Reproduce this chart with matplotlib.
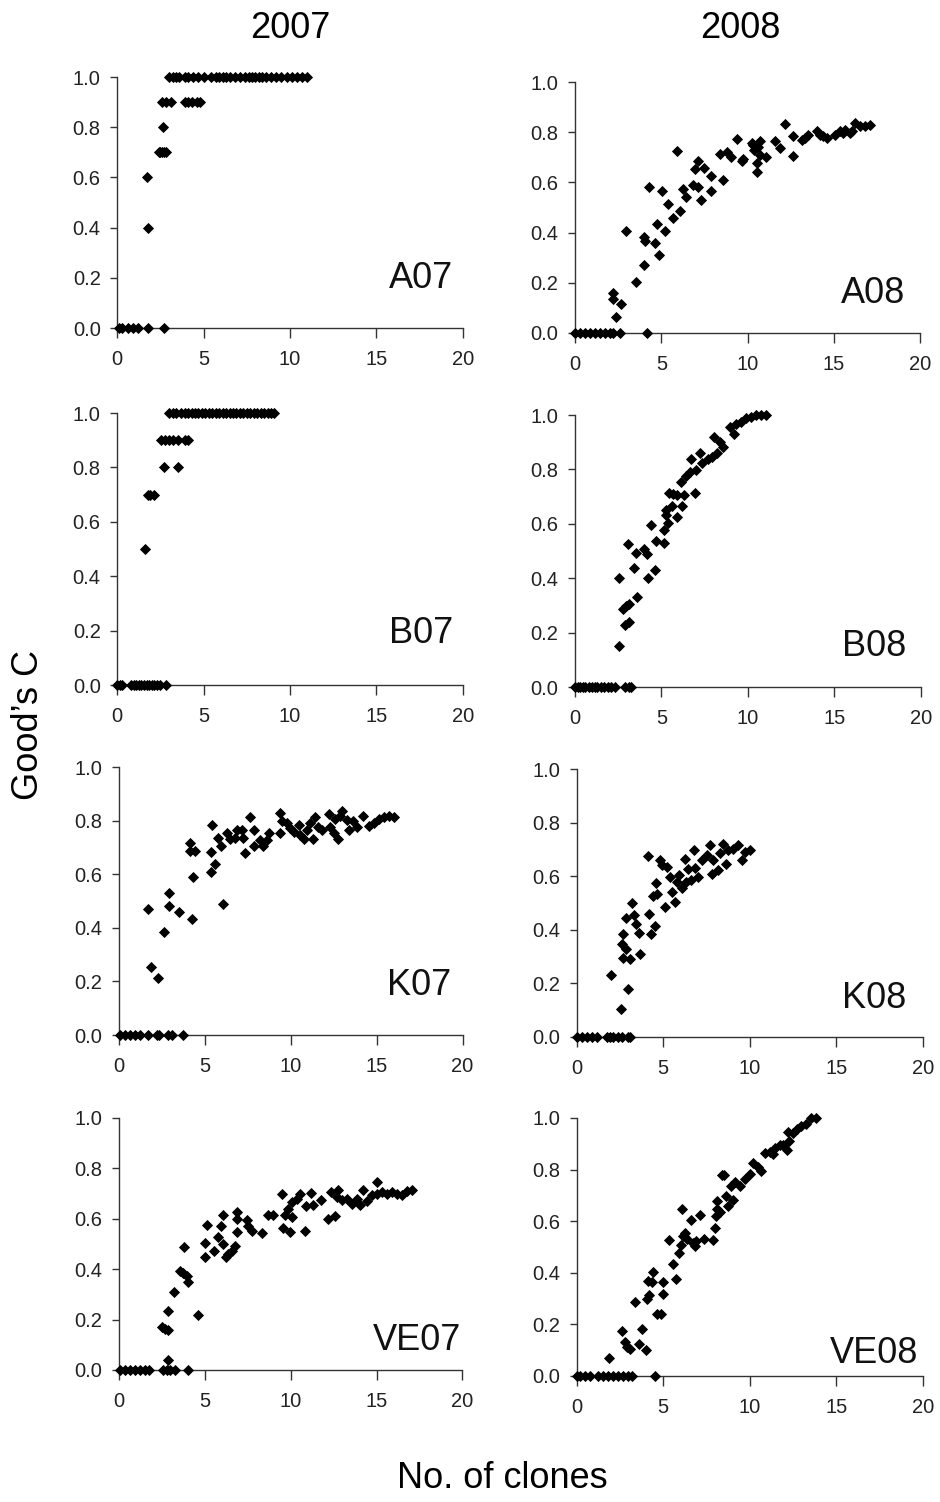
import matplotlib
matplotlib.use('Agg')
import matplotlib.pyplot as plt

plt.rcParams['font.family'] = ['Liberation Sans', 'DejaVu Sans']

# ── Data (x = no. of clones, y = Good's C) ────────────────────────────────────
a07_x = [0.1, 0.3, 0.6, 0.9, 1.2, 1.8, 2.7,
         1.75, 1.7,
         2.4, 2.5, 2.6, 2.7, 2.8,
         2.63,
         2.6, 2.8, 3.1, 3.9, 4.1, 4.3, 4.6, 4.8,
         3.0, 3.2, 3.4, 3.6, 3.9, 4.1, 4.4, 4.7, 5.0, 5.4, 5.7, 5.9, 6.1, 6.3,
         6.5, 6.8, 7.1, 7.4, 7.6, 7.8, 8.0, 8.2, 8.4, 8.6, 8.9, 9.2, 9.5, 9.8,
         10.1, 10.4, 10.7, 11.0]
a07_y = [0.0, 0.0, 0.0, 0.0, 0.0, 0.0, 0.0,
         0.4, 0.6,
         0.7, 0.7, 0.7, 0.7, 0.7,
         0.8,
         0.9, 0.9, 0.9, 0.9, 0.9, 0.9, 0.9, 0.9,
         1.0, 1.0, 1.0, 1.0, 1.0, 1.0, 1.0, 1.0, 1.0, 1.0, 1.0, 1.0, 1.0, 1.0,
         1.0, 1.0, 1.0, 1.0, 1.0, 1.0, 1.0, 1.0, 1.0, 1.0, 1.0, 1.0, 1.0, 1.0,
         1.0, 1.0, 1.0, 1.0]

a08_x = [0.0, 0.3, 0.58, 0.87, 1.16, 1.45, 1.74, 2.03, 2.22, 2.6, 4.19,
         2.22, 2.22, 2.64, 2.36, 2.93, 3.51, 4.02, 4.0, 4.03, 4.27, 4.63, 4.73,
         4.86, 5.02, 5.19, 5.37, 5.69, 5.89, 6.08, 6.24, 6.41, 6.85, 6.95, 7.1,
         7.14, 7.3, 7.49, 7.86, 7.86, 8.4, 8.59, 8.78, 9.03, 9.36, 9.65, 9.75,
         10.23, 10.39, 10.52, 10.52, 10.71, 10.71, 11.06, 11.58, 11.87, 12.16,
         12.64, 12.64, 13.13, 13.51, 14.0, 14.19, 14.58, 15.06, 15.35, 15.64,
         15.93, 16.22, 16.51, 16.8, 17.08, 10.33, 10.62, 13.32, 14.38, 15.54,
         16.02]
a08_y = [0.0, 0.0, 0.0, 0.0, 0.0, 0.0, 0.0, 0.0, 0.0, 0.0, 0.0,
         0.159, 0.136, 0.116, 0.065, 0.407, 0.203, 0.269, 0.383, 0.367, 0.583,
         0.359, 0.436, 0.312, 0.567, 0.407, 0.512, 0.46, 0.727, 0.485, 0.572,
         0.54, 0.589, 0.652, 0.685, 0.58, 0.529, 0.656, 0.625, 0.567, 0.712,
         0.609, 0.72, 0.7, 0.772, 0.687, 0.693, 0.756, 0.729, 0.676, 0.643,
         0.765, 0.709, 0.703, 0.765, 0.739, 0.832, 0.783, 0.705, 0.767, 0.789,
         0.803, 0.789, 0.776, 0.789, 0.803, 0.809, 0.796, 0.836, 0.823, 0.825,
         0.827, 0.749, 0.743, 0.776, 0.783, 0.796, 0.803]

b07_x = [0.0, 0.15, 0.3, 0.8, 0.95, 1.1, 1.25, 1.4, 1.55, 1.7, 1.85, 2.0,
         2.15, 2.3, 2.45, 2.8,
         1.6,
         1.8, 1.9, 2.15,
         2.72, 3.53,
         2.53, 2.75, 3.0, 3.25, 3.5, 3.9, 4.1,
         3.0, 3.2, 3.4, 3.7, 3.9, 4.1, 4.3, 4.5, 4.7, 4.9, 5.1, 5.3, 5.5, 5.7,
         5.9, 6.1, 6.3, 6.5, 6.7, 6.9, 7.1, 7.3, 7.5, 7.7, 7.9, 8.1, 8.3, 8.5,
         8.7, 8.9, 9.1]
b07_y = [0.0, 0.0, 0.0, 0.0, 0.0, 0.0, 0.0, 0.0, 0.0, 0.0, 0.0, 0.0,
         0.0, 0.0, 0.0, 0.0,
         0.5,
         0.7, 0.7, 0.7,
         0.8, 0.8,
         0.9, 0.9, 0.9, 0.9, 0.9, 0.9, 0.9,
         1.0, 1.0, 1.0, 1.0, 1.0, 1.0, 1.0, 1.0, 1.0, 1.0, 1.0, 1.0, 1.0, 1.0,
         1.0, 1.0, 1.0, 1.0, 1.0, 1.0, 1.0, 1.0, 1.0, 1.0, 1.0, 1.0, 1.0, 1.0,
         1.0, 1.0, 1.0]

b08_x = [0.0, 0.15, 0.3, 0.45, 0.6, 0.8, 1.0, 1.15, 1.3, 1.5, 1.7, 1.9,
         2.1, 2.3, 2.9, 3.1, 3.25,
         2.56, 2.56, 2.79, 2.94, 3.12, 2.88, 3.13, 3.08, 3.4, 3.52, 3.6, 3.98,
         4.17, 4.21, 4.62, 4.42, 4.71, 5.15, 5.15, 5.25, 5.29, 5.38, 5.44,
         5.58, 5.67, 5.92, 5.87, 6.19, 6.1, 6.29, 6.44, 6.63, 6.92, 6.73, 7.02,
         7.21, 7.37, 7.69, 8.02, 7.94, 8.21, 8.4, 8.56, 8.98, 9.17, 9.33, 9.62,
         9.9, 10.19, 10.48, 10.77, 11.02]
b08_y = [0.0, 0.0, 0.0, 0.0, 0.0, 0.0, 0.0, 0.0, 0.0, 0.0, 0.0, 0.0,
         0.0, 0.0, 0.0, 0.0, 0.0,
         0.15, 0.399, 0.285, 0.297, 0.304, 0.227, 0.239, 0.525, 0.438, 0.493,
         0.331, 0.509, 0.488, 0.402, 0.432, 0.595, 0.536, 0.528, 0.577, 0.65,
         0.632, 0.604, 0.712, 0.665, 0.708, 0.626, 0.706, 0.665, 0.755, 0.706,
         0.775, 0.791, 0.712, 0.837, 0.798, 0.861, 0.825, 0.84, 0.918, 0.847,
         0.861, 0.902, 0.883, 0.957, 0.929, 0.966, 0.975, 0.988, 0.994, 1.0,
         1.0, 1.0]

k07_x = [0.06, 0.35, 0.64, 0.93, 1.22, 1.71, 2.19, 2.35, 2.87, 3.07, 3.75,
         1.71, 1.86, 2.29, 2.64, 2.91, 2.91, 3.5, 4.23, 4.14, 4.14, 4.43, 4.29,
         5.34, 5.59, 5.36, 5.4, 6.08, 5.79, 5.92, 6.27, 6.46, 6.76, 6.85, 7.15,
         7.24, 7.34, 7.63, 7.83, 7.83, 8.21, 8.41, 8.6, 8.76, 9.38, 9.48, 9.38,
         9.77, 9.96, 10.16, 10.45, 10.54, 10.74, 10.93, 11.13, 11.32, 11.42,
         11.61, 11.81, 12.2, 12.29, 12.49, 12.58, 12.77, 12.97, 12.87, 13.26,
         13.36, 13.65, 13.84, 14.23, 14.58, 14.82, 15.11, 15.4, 15.69, 15.98]
k07_y = [0.0, 0.0, 0.0, 0.0, 0.0, 0.0, 0.0, 0.0, 0.0, 0.0, 0.0,
         0.47, 0.254, 0.213, 0.385, 0.53, 0.48, 0.459, 0.433, 0.718, 0.687,
         0.687, 0.589, 0.607, 0.639, 0.684, 0.784, 0.49, 0.734, 0.706, 0.753,
         0.731, 0.734, 0.766, 0.766, 0.734, 0.679, 0.813, 0.766, 0.704, 0.728,
         0.704, 0.728, 0.753, 0.828, 0.797, 0.753, 0.79, 0.772, 0.759, 0.784,
         0.747, 0.731, 0.766, 0.79, 0.731, 0.815, 0.777, 0.766, 0.825, 0.777,
         0.753, 0.805, 0.731, 0.837, 0.818, 0.803, 0.766, 0.797, 0.775, 0.818,
         0.78, 0.793, 0.805, 0.815, 0.818, 0.813]

k08_x = [0.0, 0.29, 0.58, 0.87, 1.15, 1.73, 1.92, 2.12, 2.4, 2.6, 2.98, 3.08,
         1.98, 2.56, 2.94, 2.6, 2.69, 2.65, 2.83, 3.08, 2.85, 3.17, 3.31, 3.42,
         3.6, 3.65, 4.13, 4.19, 4.27, 4.52, 4.58, 4.42, 4.62, 4.81, 4.9, 5.1,
         5.19, 5.38, 5.48, 5.67, 5.77, 5.92, 6.06, 6.25, 6.31, 6.44, 6.63, 6.79,
         6.83, 7.02, 7.21, 7.5, 7.69, 7.79, 7.88, 8.17, 8.27, 8.46, 8.65, 8.75,
         9.04, 9.33, 9.52, 9.71, 10.0]
k08_y = [0.0, 0.0, 0.0, 0.0, 0.0, 0.0, 0.0, 0.0, 0.0, 0.0, 0.0, 0.0,
         0.23, 0.103, 0.178, 0.346, 0.296, 0.386, 0.33, 0.292, 0.445, 0.501,
         0.454, 0.42, 0.388, 0.309, 0.674, 0.46, 0.383, 0.414, 0.575, 0.526,
         0.535, 0.659, 0.641, 0.485, 0.635, 0.597, 0.541, 0.504, 0.579, 0.603,
         0.557, 0.666, 0.579, 0.628, 0.587, 0.697, 0.632, 0.597, 0.659, 0.678,
         0.715, 0.61, 0.659, 0.625, 0.687, 0.722, 0.647, 0.697, 0.703, 0.715,
         0.662, 0.69, 0.697]

ve07_x = [0.04, 0.33, 0.62, 0.91, 1.2, 1.5, 1.75, 2.56, 2.76, 2.95, 3.24, 3.98,
          2.82, 2.47, 2.66, 2.86, 2.82, 3.19, 3.54, 3.73, 3.92, 4.02, 3.77,
          4.57, 4.99, 4.99, 5.13, 5.54, 5.77, 5.9, 6.02, 6.06, 6.22, 6.35, 6.55,
          6.74, 6.84, 6.84, 6.84, 7.42, 7.52, 7.71, 8.3, 8.68, 8.98, 9.46, 9.56,
          9.66, 9.85, 9.95, 10.04, 10.04, 10.34, 10.53, 10.82, 10.88, 11.15,
          11.31, 11.75, 12.18, 12.37, 12.57, 12.67, 12.76, 12.96, 13.25, 13.54,
          13.83, 14.03, 14.22, 14.42, 14.71, 15.0, 15.0, 15.29, 15.58, 15.87,
          16.16, 16.46, 16.75, 17.04]
ve07_y = [0.0, 0.0, 0.0, 0.0, 0.0, 0.0, 0.0, 0.0, 0.0, 0.0, 0.0, 0.0,
          0.04, 0.169, 0.164, 0.16, 0.233, 0.311, 0.393, 0.384, 0.373, 0.349,
          0.487, 0.217, 0.503, 0.447, 0.576, 0.471, 0.527, 0.573, 0.613, 0.5,
          0.447, 0.46, 0.473, 0.493, 0.547, 0.627, 0.6, 0.597, 0.573, 0.553,
          0.544, 0.613, 0.613, 0.7, 0.563, 0.616, 0.64, 0.549, 0.607, 0.667,
          0.68, 0.7, 0.553, 0.651, 0.704, 0.656, 0.673, 0.6, 0.707, 0.611,
          0.687, 0.713, 0.673, 0.68, 0.66, 0.68, 0.653, 0.713, 0.669, 0.693,
          0.747, 0.7, 0.707, 0.7, 0.707, 0.7, 0.693, 0.709, 0.713]

ve08_x = [0.0, 0.19, 0.48, 0.77, 1.25, 1.54, 1.83, 2.12, 2.4, 2.69, 2.98, 3.17,
          4.52,
          1.87, 2.6, 2.79, 2.88, 3.08, 3.37, 3.6, 3.75, 4.0, 4.08, 4.17, 4.13,
          4.42, 4.33, 4.62, 4.85, 5.0, 5.0, 5.33, 5.54, 5.73, 5.92, 6.0, 6.06,
          6.15, 6.25, 6.38, 6.63, 6.73, 6.83, 6.88, 7.12, 7.37, 7.85, 7.98, 8.04,
          8.12, 8.08, 8.27, 8.37, 8.5, 8.65, 8.75, 8.94, 9.0, 9.13, 9.46, 9.71,
          10.0, 10.19, 10.48, 10.67, 10.87, 11.15, 11.35, 11.44, 11.73, 11.92,
          12.17, 12.21, 12.27, 12.5, 12.73, 12.98, 13.27, 13.56, 13.85]
ve08_y = [0.0, 0.0, 0.0, 0.0, 0.0, 0.0, 0.0, 0.0, 0.0, 0.0, 0.0, 0.0,
          0.0,
          0.069, 0.173, 0.13, 0.114, 0.105, 0.286, 0.125, 0.182, 0.099, 0.3,
          0.312, 0.368, 0.403, 0.365, 0.24, 0.24, 0.364, 0.316, 0.527, 0.435,
          0.377, 0.478, 0.506, 0.647, 0.543, 0.556, 0.53, 0.605, 0.517, 0.504,
          0.523, 0.625, 0.53, 0.526, 0.575, 0.621, 0.649, 0.679, 0.634, 0.779,
          0.777, 0.696, 0.66, 0.735, 0.683, 0.751, 0.735, 0.764, 0.783, 0.825,
          0.809, 0.796, 0.864, 0.868, 0.861, 0.883, 0.894, 0.894, 0.874, 0.945,
          0.909, 0.943, 0.956, 0.969, 0.978, 1.0, 1.0]

# ── Layout ────────────────────────────────────────────────────────────────────
fig = plt.figure(figsize=(9.4, 15.02), dpi=100)
fig.patch.set_facecolor('white')

panels = [
    ('A07', a07_x, a07_y, [0.1248, 0.7816, 0.3674, 0.1671], 0.972, 0.16),
    ('A08', a08_x, a08_y, [0.6117, 0.7783, 0.3674, 0.1671], 0.957, 0.12),
    ('B07', b07_x, b07_y, [0.1248, 0.5439, 0.3674, 0.1811], 0.972, 0.154),
    ('B08', b08_x, b08_y, [0.6117, 0.5426, 0.3680, 0.1811], 0.957, 0.114),
    ('K07', k07_x, k07_y, [0.1266, 0.3109, 0.3655, 0.1784], 0.966, 0.149),
    ('K08', k08_x, k08_y, [0.6135, 0.3096, 0.3684, 0.1784], 0.953, 0.108),
    ('VE07', ve07_x, ve07_y, [0.1269, 0.0879, 0.3650, 0.1678], 0.998, 0.079),
    ('VE08', ve08_x, ve08_y, [0.6135, 0.0839, 0.3684, 0.1718], 0.985, 0.05),
]

for name, xs, ys, pos, tx, ty in panels:
    ax = fig.add_axes(pos)
    ax.plot(xs, ys, linestyle='none', marker='D', ms=5.2, color='black',
            markeredgewidth=0.6, clip_on=False, zorder=3)
    ax.set_xlim(0, 20)
    ax.set_ylim(0, 1.0)
    ax.set_xticks([0, 5, 10, 15, 20])
    ax.set_yticks([0.0, 0.2, 0.4, 0.6, 0.8, 1.0])
    ax.set_yticklabels(['0.0', '0.2', '0.4', '0.6', '0.8', '1.0'])
    for s in ('top', 'right'):
        ax.spines[s].set_visible(False)
    for s in ('left', 'bottom'):
        ax.spines[s].set_color('#333333')
        ax.spines[s].set_linewidth(1.0)
    ax.tick_params(axis='x', direction='out', length=7, width=1.0,
                   colors='#333333', labelsize=14.5, pad=9, labelcolor='#222222')
    ax.tick_params(axis='y', direction='out', length=5, width=1.0,
                   colors='#333333', labelsize=14.5, pad=7, labelcolor='#222222')
    ax.text(tx, ty, name, transform=ax.transAxes, ha='right', va='baseline',
            fontsize=26, color='#111111')

fig.text(290 / 940, 1 - 28 / 1502, '2007', ha='center', va='center', fontsize=26)
fig.text(740 / 940, 1 - 28 / 1502, '2008', ha='center', va='center', fontsize=26)
fig.text(28 / 940, 1 - 725 / 1502, 'Good\u2019s C', ha='center', va='center',
         rotation=90, fontsize=26)
fig.text(502 / 940, 1 - 1478 / 1502, 'No. of clones', ha='center', va='center',
         fontsize=26)

fig.savefig('out.png', dpi=100, facecolor='white')
